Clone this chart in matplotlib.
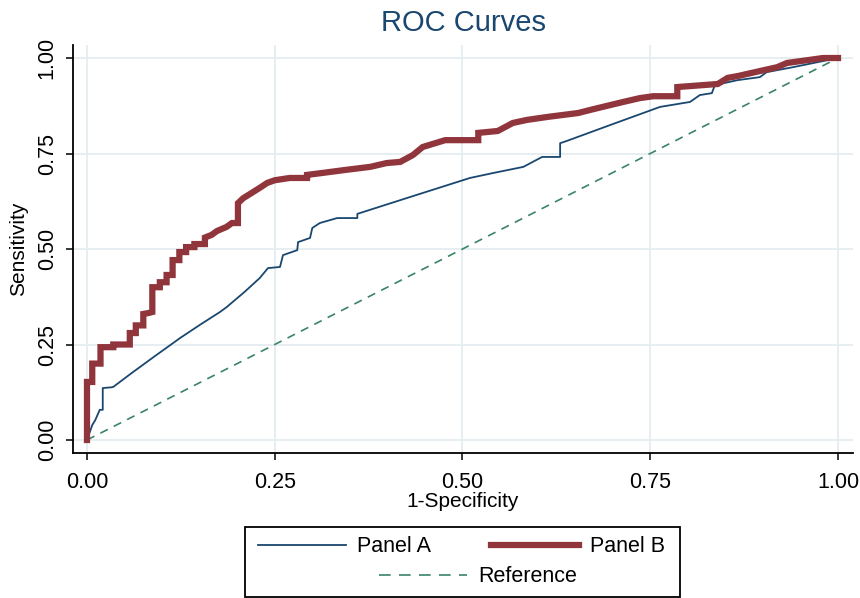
import matplotlib
matplotlib.use("Agg")
import matplotlib.pyplot as plt
from matplotlib.patches import Rectangle

plt.rcParams['font.family'] = ['Liberation Sans', 'DejaVu Sans']

# ---- data ----
panel_a_x = [0.000, 0.007, 0.011, 0.017, 0.021, 0.021, 0.033, 0.035, 0.060, 0.090,
             0.124, 0.150, 0.177, 0.186, 0.210, 0.230, 0.241, 0.257, 0.261, 0.280,
             0.281, 0.297, 0.300, 0.310, 0.333, 0.360, 0.360, 0.430, 0.510, 0.541,
             0.581, 0.606, 0.630, 0.630, 0.639, 0.700, 0.763, 0.803, 0.816, 0.832,
             0.836, 0.866, 0.896, 0.905, 0.940, 1.000]
panel_a_y = [0.000, 0.039, 0.052, 0.079, 0.079, 0.136, 0.138, 0.139, 0.176, 0.219,
             0.267, 0.301, 0.335, 0.348, 0.388, 0.424, 0.450, 0.453, 0.484, 0.497,
             0.518, 0.529, 0.555, 0.568, 0.581, 0.581, 0.592, 0.636, 0.686, 0.699,
             0.715, 0.741, 0.741, 0.777, 0.783, 0.827, 0.872, 0.885, 0.903, 0.908,
             0.929, 0.942, 0.950, 0.963, 0.976, 1.000]

panel_b_x = [0.000, 0.000, 0.007, 0.007, 0.018, 0.018, 0.035, 0.035, 0.057, 0.057,
             0.065, 0.065, 0.075, 0.075, 0.081, 0.087, 0.087, 0.097, 0.097, 0.106,
             0.106, 0.114, 0.114, 0.123, 0.123, 0.132, 0.132, 0.143, 0.143, 0.157,
             0.157, 0.166, 0.173, 0.186, 0.193, 0.201, 0.201, 0.208, 0.217, 0.230,
             0.240, 0.250, 0.270, 0.293, 0.293, 0.313, 0.344, 0.377, 0.399, 0.417,
             0.434, 0.447, 0.477, 0.521, 0.521, 0.547, 0.567, 0.586, 0.614, 0.654,
             0.674, 0.714, 0.736, 0.754, 0.786, 0.786, 0.840, 0.853, 0.867, 0.903,
             0.919, 0.932, 0.969, 0.980, 1.000]
panel_b_y = [0.000, 0.152, 0.152, 0.200, 0.200, 0.243, 0.243, 0.250, 0.250, 0.280,
             0.280, 0.300, 0.300, 0.330, 0.332, 0.335, 0.400, 0.400, 0.413, 0.413,
             0.432, 0.432, 0.471, 0.471, 0.492, 0.492, 0.505, 0.505, 0.513, 0.513,
             0.530, 0.537, 0.547, 0.558, 0.568, 0.568, 0.620, 0.633, 0.644, 0.660,
             0.673, 0.680, 0.686, 0.686, 0.694, 0.699, 0.707, 0.715, 0.725, 0.728,
             0.746, 0.767, 0.785, 0.785, 0.804, 0.809, 0.830, 0.838, 0.846, 0.856,
             0.866, 0.885, 0.895, 0.900, 0.900, 0.924, 0.932, 0.948, 0.953, 0.969,
             0.976, 0.987, 0.997, 1.000, 1.000]

ref_x = [0.0, 1.0]
ref_y = [0.0, 1.0]

ticks = [0.0, 0.25, 0.5, 0.75, 1.0]
tick_labels = ["0.00", "0.25", "0.50", "0.75", "1.00"]

NAVY = "#1a476f"
MAROON = "#90353b"
GREEN = "#3a8468"
GRID = "#e4edf0"

fig = plt.figure(figsize=(8.6, 5.98), dpi=100)
ax = fig.add_axes([0.0849, 0.2425, 0.9070, 0.6822])

for t in ticks:
    ax.axvline(t, color=GRID, lw=1.3, zorder=0)
    ax.axhline(t, color=GRID, lw=1.3, zorder=0)

la, = ax.plot(panel_a_x, panel_a_y, color=NAVY, lw=1.3, zorder=3, label="Panel A")
lb, = ax.plot(panel_b_x, panel_b_y, color=MAROON, lw=4.5, zorder=4,
              solid_joinstyle='miter', label="Panel B")
lr, = ax.plot(ref_x, ref_y, color=GREEN, lw=1.2, dashes=(5, 4), zorder=2,
              label="Reference")

ax.set_xlim(-0.0186, 1.020)
ax.set_ylim(-0.034, 1.034)
ax.set_xticks(ticks)
ax.set_xticklabels(tick_labels)
ax.set_yticks(ticks)
ax.set_yticklabels(tick_labels, rotation=90, va='center')

for s in ['top', 'right']:
    ax.spines[s].set_visible(False)
for s in ['left', 'bottom']:
    ax.spines[s].set_color('black')
    ax.spines[s].set_linewidth(1.3)
ax.tick_params(axis='both', direction='out', length=5, width=1.1,
               labelsize=15.5, colors='black')
ax.tick_params(axis='x', pad=9)
ax.tick_params(axis='y', pad=6)

ax.set_xlabel("1-Specificity", fontsize=15, labelpad=-1)
ax.set_ylabel("Sensitivity", fontsize=15, labelpad=6)
ax.set_title("ROC Curves", fontsize=21, color=NAVY, pad=10)

# legend: box with two rows (2 columns, third entry centered)
box = Rectangle((245 / 860, 1 - 597 / 598), (680 - 245) / 860, (597 - 527) / 598,
                transform=fig.transFigure, fill=False, edgecolor='black',
                lw=1.3, clip_on=False)
fig.patches.append(box)

leg_kw = dict(frameon=False, fontsize=15.5, handlelength=4.1, handletextpad=0.5,
              borderpad=0.0, borderaxespad=0.0, loc='center')
fig.legend(handles=[la, lb], ncol=2, columnspacing=2.8,
           bbox_to_anchor=(0.5366, 1 - 547 / 598), **leg_kw)
leg2 = fig.legend(handles=[lr], ncol=1, bbox_to_anchor=(0.556, 1 - 577 / 598),
                  **leg_kw)
for h in leg2.legend_handles:
    h.set_dashes((7, 5))

fig.savefig("out.png", dpi=100)
